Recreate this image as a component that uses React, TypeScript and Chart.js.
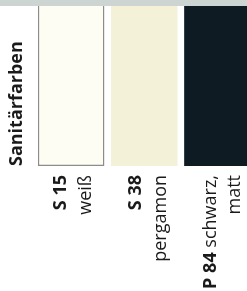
import React, { useEffect, useRef } from "react";
import { Chart, registerables } from "chart.js";

Chart.register(...registerables);

// ---- data ----
const codes = ["S 15", "S 38", "P 84"];
const nameFirstLine = ["", "", "schwarz,"];
const nameSecondLine = ["weiß", "pergamon", "matt"];
const swatchValues = [1, 1, 1];
const swatchColors = ["#fefdf3", "#f4f1d9", "#0e1b23"];
const axisTitle = "Sanitärfarben";

const FONT = "'Open Sans', 'Noto Sans', sans-serif";
const TEXT_COLOR = "#1a1a1a";

const bandPlugin = {
  id: "topBand",
  beforeDraw(chart: any) {
    const { ctx, chartArea, width } = chart;
    ctx.save();
    ctx.fillStyle = "#ccd5d1";
    ctx.fillRect(0, 0, width, chartArea.top);
    ctx.restore();
  },
};

const labelPlugin = {
  id: "swatchLabels",
  afterDraw(chart: any) {
    const { ctx, chartArea } = chart;
    const xs = chart.scales.x;
    const size = 18;
    const shifts = [1, 3, 5];
    const spacings = [25, 25, 24];
    ctx.save();
    ctx.fillStyle = TEXT_COLOR;
    ctx.textBaseline = "alphabetic";
    ctx.textAlign = "left";
    codes.forEach((code, i) => {
      const cx = xs.getPixelForValue(i) + shifts[i];
      const lines: { t: string; b: boolean }[][] = [
        [{ t: code, b: true }, ...(nameFirstLine[i] ? [{ t: " " + nameFirstLine[i], b: false }] : [])],
        [{ t: nameSecondLine[i], b: false }],
      ];
      ctx.save();
      ctx.translate(cx, chartArea.bottom + 9);
      ctx.rotate(-Math.PI / 2);
      lines.forEach((segs, li) => {
        const base = li === 0 ? -6 : -6 + spacings[i];
        let x = 0;
        for (let s = segs.length - 1; s >= 0; s--) {
          ctx.font = `${segs[s].b ? "bold " : ""}${size}px ${FONT}`;
          const w = ctx.measureText(segs[s].t).width;
          x -= w;
          ctx.fillText(segs[s].t, x, base);
        }
      });
      ctx.restore();
    });
    ctx.restore();
  },
};

export default function App() {
  const canvasRef = useRef<HTMLCanvasElement | null>(null);

  useEffect(() => {
    document.body.style.margin = "0";
    const canvas = canvasRef.current;
    if (!canvas) return;
    const chart = new Chart(canvas, {
      type: "bar",
      data: {
        labels: codes,
        datasets: [
          {
            data: swatchValues,
            backgroundColor: swatchColors,
            borderColor: ["#8d8d88", "#8d8d88", "#8d8d88"],
            borderWidth: [1.5, 0, 0],
            borderSkipped: "top",
            barPercentage: 0.91,
            categoryPercentage: 1,
          },
        ],
      },
      options: {
        animation: false,
        responsive: false,
        devicePixelRatio: 1,
        layout: { padding: { left: 0, top: 6, right: 0, bottom: 125 } },
        plugins: { legend: { display: false }, tooltip: { enabled: false } },
        scales: {
          x: { display: false },
          y: {
            min: 0,
            max: 1,
            ticks: { display: false },
            grid: { display: false, drawTicks: false },
            border: { display: false },
            title: {
              display: true,
              text: axisTitle,
              align: "start",
              color: TEXT_COLOR,
              font: { family: FONT, size: 18, weight: "bold" },
              padding: { top: 6, bottom: 7 },
            },
          },
        },
      },
      plugins: [bandPlugin, labelPlugin],
    });
    return () => chart.destroy();
  }, []);

  return (
    <div
      style={{
        position: "fixed",
        left: 0,
        top: 0,
        width: 247,
        height: 291,
        overflow: "hidden",
        background: "#ffffff",
      }}
    >
      <canvas ref={canvasRef} width={254} height={291} style={{ display: "block", width: 254, height: 291 }} />
    </div>
  );
}
